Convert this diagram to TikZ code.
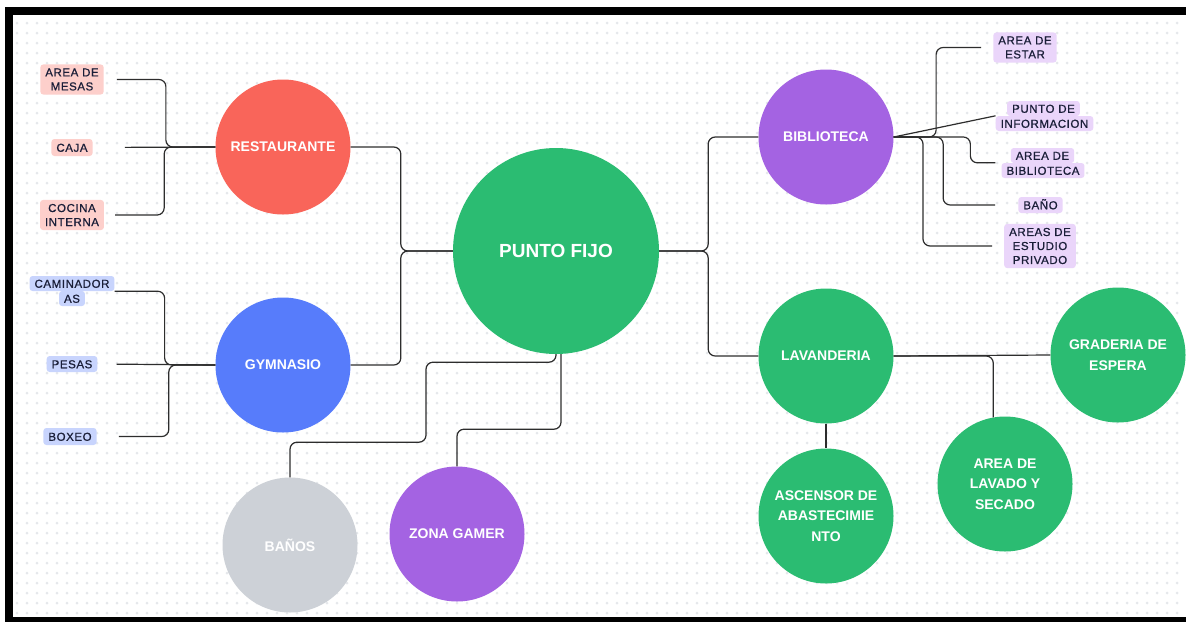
\documentclass[tikz,border=0pt]{standalone}
\usepackage{fontspec}
\setmainfont{Liberation Sans}
\newfontfamily\tagfont[LetterSpace=5, FakeBold=0.8]{Liberation Sans}
\usepackage{tikz}
\usetikzlibrary{positioning, calc}
\definecolor{cRed}{RGB}{249,101,90}
\definecolor{cBlue}{RGB}{87,124,251}
\definecolor{cGreen}{RGB}{43,188,114}
\definecolor{cPurple}{RGB}{164,99,226}
\definecolor{cGrey}{RGB}{205,209,215}
\definecolor{cPinkTag}{RGB}{253,207,203}
\definecolor{cBlueTag}{RGB}{200,212,253}
\definecolor{cPurpleTag}{RGB}{234,213,250}
\definecolor{cInk}{RGB}{26,30,56}
\definecolor{cLine}{RGB}{45,45,45}
\definecolor{cDot}{RGB}{229,231,235}
\tikzset{
	hub/.style     ={circle, minimum size=135pt, inner sep=0pt, align=center, text=white, font=\bfseries\fontsize{14}{20.5}\selectfont},
	tag/.style     ={rectangle, rounded corners=3pt, inner xsep=5pt, inner ysep=4pt, align=center, text=cInk, font=\tagfont\fontsize{11.5}{14}\selectfont},
	tagline/.style ={tag, inner ysep=0pt, minimum height=15pt, text height=8.5pt, text depth=0pt},
	% connectors
	conn/.style    ={draw=cLine, line width=1.2pt, rounded corners=7pt},
	gridpt/.style  ={fill=cDot},
}

\begin{document}
\begin{tikzpicture}[x=1pt, y=-1pt]
	\useasboundingbox (0,0) rectangle (1186,622);
	\fill[white] (0,0) rectangle (1186,622);
	\foreach \y in {23,33,...,613} {\fill[gridpt] \foreach \x in {17,27,...,1185} {(\x,\y) circle (1.5pt)};}
	\fill[black] (5,7) rectangle (13,622);
	\fill[black] (5,7) rectangle (1186,15);
	\fill[black] (5,617) rectangle (1186,622);

	% main circles
	\node[hub, minimum size=206pt, fill=cGreen, font=\bfseries\fontsize{19}{22}\selectfont] (pf) at (556,251) {PUNTO FIJO};
	\node[hub, fill=cRed] (rest) at (283,147) {RESTAURANTE};
	\node[hub, fill=cBlue] (gym) at (283,365) {GYMNASIO};
	\node[hub, fill=cPurple] (bib) at (826,137) {BIBLIOTECA};
	\node[hub, fill=cGreen] (lav) at (826,356) {LAVANDERIA};
	\node[hub, fill=cGreen] (grad) at (1118,355) {GRADERIA DE\\ESPERA};
	\node[hub, fill=cGreen] (lavado) at (1005,484) {AREA DE\\LAVADO Y\\SECADO};
	\node[hub, fill=cGreen] (asc) at (826,516) {ASCENSOR DE\\ABASTECIMIE\\NTO};
	\node[hub, fill=cGrey] (banos) at (290,545) {BAÑOS};
	\node[hub, fill=cPurple] (gamer) at (457,534) {ZONA GAMER};

	% tags
	\node[tag, fill=cPinkTag] (mesas) at (72,79.5) {AREA DE\\MESAS};
	\node[tagline, fill=cPinkTag, minimum height=17pt] (caja) at (72,147.5) {CAJA};
	\node[tag, fill=cPinkTag] (cocina) at (72,215) {COCINA\\INTERNA};
	\node[tagline, fill=cBlueTag] (camA) at (72,283.5) {CAMINADOR};
	\node[tagline, fill=cBlueTag] (camB) at (72,298.5) {AS};
	\node[tagline, fill=cBlueTag, minimum height=16pt] (pesas) at (72,364) {PESAS};
	\node[tagline, fill=cBlueTag, minimum height=17pt] (boxeo) at (70,436.5) {BOXEO};
	\node[tag, fill=cPurpleTag] (estar) at (1025,47.5) {AREA DE\\ESTAR};
	\node[tagline, fill=cPurpleTag] (infoA) at (1043.5,108.5) {PUNTO DE};
	\node[tagline, fill=cPurpleTag] (infoB) at (1044.5,123.5) {INFORMACION};
	\node[tagline, fill=cPurpleTag] (bibA) at (1042.5,155.5) {AREA DE};
	\node[tagline, fill=cPurpleTag] (bibB) at (1043,170.5) {BIBLIOTECA};
	\node[tagline, fill=cPurpleTag, minimum height=16pt] (bano) at (1040.5,205) {BAÑO};
	\node[tag, fill=cPurpleTag] (estudio) at (1040,246) {AREAS DE\\ESTUDIO\\PRIVADO};

	% center branches
	\draw[conn] (pf.west) -- ++(-52,0) |- (rest.east);
	\draw[conn] (pf.west) -- ++(-52,0) |- (gym.east);
	\draw[conn] (pf.east) -- ++(49,0) |- (bib.west);
	\draw[conn] (pf.east) -- ++(49,0) |- (lav.west);
	\draw[conn] (pf.south) -- ++(0,8) -| ++(-130,80) -| (banos.north);
	\draw[conn] ([xshift=5pt]pf.south) -- ++(0,75) -| (gamer.north);

	% restaurante
	\draw[conn, shorten >=13pt] (rest.west) -| ([xshift=62pt]mesas.east) -- (mesas.east);
	\draw[conn, shorten >=32pt] (rest.west) -- (caja.east);
	\draw[conn, shorten >=11pt] (rest.west) -| ([xshift=60pt]cocina.east) -- (cocina.east);

	% gymnasio
	\draw[conn] (gym.west) -| ([xshift=50pt]camA.south east) -- (camA.south east);
	\draw[conn, shorten >=19pt] (gym.west) -- (pesas.east);
	\draw[conn, shorten >=22pt] (gym.west) -| ([xshift=72pt]boxeo.east) -- (boxeo.east);

	% biblioteca
	\draw[conn, shorten >=12pt] (bib.east) -| ([xshift=-57pt]estar.west) -- (estar.west);
	\draw[conn] (bib.east) -- (infoB.north west);
	\draw[conn, shorten >=6pt] (bib.east) -| ([xshift=-31pt]bibB.north west) -- (bibB.north west);
	\draw[conn, shorten >=23pt] (bib.east) -| ([xshift=-75pt]bano.west) -- (bano.west);
	\draw[conn, shorten >=12pt] (bib.east) -| ([xshift=-81pt]estudio.west) -- (estudio.west);

	% lavanderia
	\draw[conn] (lav.east) -- (grad.west);
	\draw[conn] (lav.east) -| (lavado.100);
	\draw[conn] (lav.south) -- (asc.north);
\end{tikzpicture}
\end{document}
